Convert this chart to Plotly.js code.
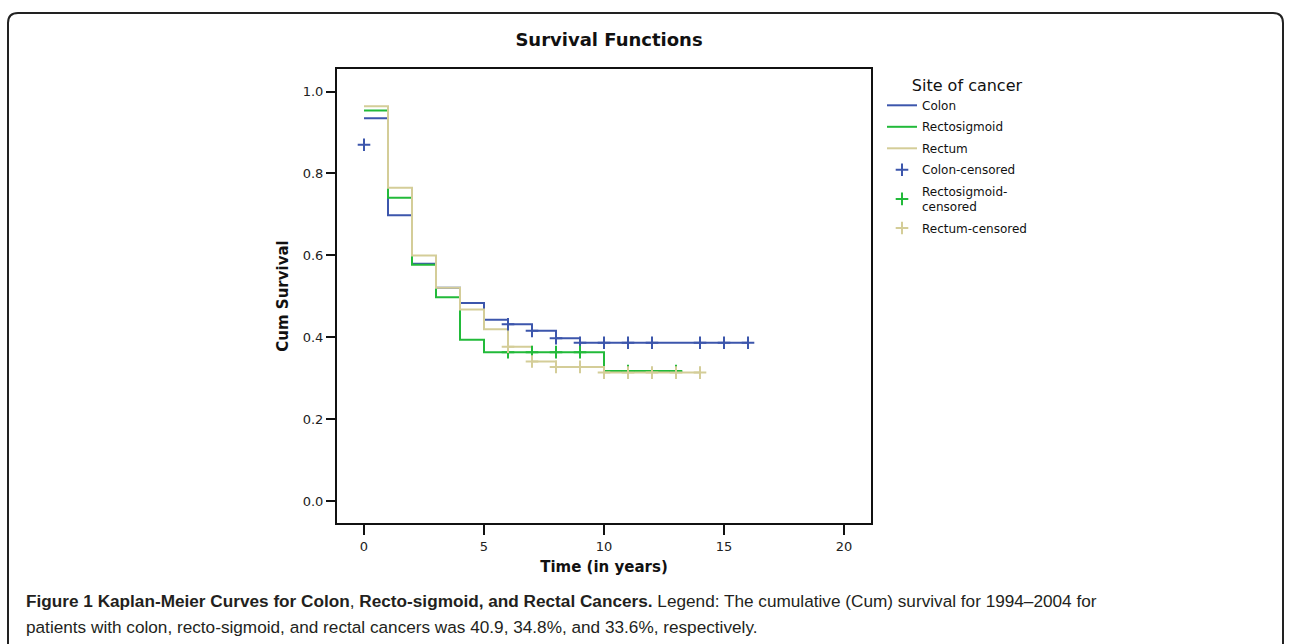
<!DOCTYPE html>
<html>
<head>
<meta charset="utf-8">
<script src="https://cdn.plot.ly/plotly-3.0.1.min.js"></script>
<style>
  html, body { margin: 0; padding: 0; background: #ffffff; }
  #chart { width: 1290px; height: 644px; }
</style>
</head>
<body>
<div id="chart"></div>
<script>
// ---- Data ----
var colonTime = [0, 1, 2, 3, 4, 5, 6, 7, 8, 9, 16];
var colonSurv = [0.935, 0.698, 0.580, 0.521, 0.484, 0.443, 0.432, 0.416, 0.398, 0.387, 0.387];

var rectosigTime = [0, 1, 2, 3, 4, 5, 10, 13];
var rectosigSurv = [0.954, 0.741, 0.577, 0.498, 0.394, 0.364, 0.318, 0.318];

var rectumTime = [0, 1, 2, 3, 4, 5, 6, 7, 8, 10, 14];
var rectumSurv = [0.964, 0.765, 0.600, 0.521, 0.468, 0.420, 0.377, 0.341, 0.328, 0.314, 0.314];

var colonCensTime = [0, 6, 7, 8, 9, 10, 11, 12, 14, 15, 16];
var colonCensSurv = [0.870, 0.432, 0.416, 0.398, 0.387, 0.387, 0.387, 0.387, 0.387, 0.387, 0.387];

var rectosigCensTime = [6, 7, 8, 9, 11, 13];
var rectosigCensSurv = [0.364, 0.364, 0.364, 0.364, 0.318, 0.318];

var rectumCensTime = [6, 7, 8, 9, 10, 11, 12, 13, 14];
var rectumCensSurv = [0.377, 0.341, 0.328, 0.328, 0.314, 0.314, 0.314, 0.314, 0.314];

var seriesNames = ['Colon', 'Rectosigmoid', 'Rectum', 'Colon-censored', 'Rectosigmoid-<br>censored', 'Rectum-censored'];
var xTicks = [0, 5, 10, 15, 20];
var yTicks = [0.0, 0.2, 0.4, 0.6, 0.8, 1.0];
var yTickText = ['0.0', '0.2', '0.4', '0.6', '0.8', '1.0'];

// ---- Styles ----
var cBlue = 'rgb(60,86,172)';
var cGreen = 'rgb(34,186,58)';
var cTan = 'rgb(212,205,152)';
var censSize = 9;

function stepTrace(x, y, name, color) {
  return { x: x, y: y, name: name, legendgroup: name, type: 'scatter', mode: 'lines',
           line: { shape: 'hv', color: color, width: 2 }, hoverinfo: 'x+y' };
}
function censTrace(x, y, name, color) {
  return { x: x, y: y, name: name, legendgroup: name, type: 'scatter', mode: 'markers',
           marker: { symbol: 'cross-thin-open', size: censSize, color: color,
                     line: { color: color, width: 2 } }, hoverinfo: 'x+y' };
}

var traces = [
  stepTrace(colonTime, colonSurv, seriesNames[0], cBlue),
  stepTrace(rectosigTime, rectosigSurv, seriesNames[1], cGreen),
  stepTrace(rectumTime, rectumSurv, seriesNames[2], cTan),
  censTrace(colonCensTime, colonCensSurv, seriesNames[3], cBlue),
  censTrace(rectosigCensTime, rectosigCensSurv, seriesNames[4], cGreen),
  censTrace(rectumCensTime, rectumCensSurv, seriesNames[5], cTan)
];

// plot area in pixels: x 337..871, y 69..523
var L = 337, R = 871, T = 69, B = 523, W = 1290, H = 644;
function px(x) { return (x - L) / (R - L); }
function py(y) { return (B - y) / (B - T); }

var fl = px(8), fr = px(1283), ft = py(13), fb = py(700);
var rx = 10 / (R - L), ry = 10 / (B - T);
var framePath = 'M' + fl + ',' + fb + ' L' + fl + ',' + (ft - ry) +
  ' Q' + fl + ',' + ft + ' ' + (fl + rx) + ',' + ft +
  ' L' + (fr - rx) + ',' + ft +
  ' Q' + fr + ',' + ft + ' ' + fr + ',' + (ft - ry) +
  ' L' + fr + ',' + fb;

var font = 'DejaVu Sans, Liberation Sans, Arial, sans-serif';
var capFont = 'Liberation Sans, Arial, sans-serif';

var layout = {
  width: W, height: H,
  margin: { l: L, r: W - R, t: T, b: H - B, pad: 0 },
  paper_bgcolor: '#ffffff', plot_bgcolor: '#ffffff',
  font: { family: font, color: '#1a1a1a', size: 12 },
  title: { text: '<b>Survival Functions</b>', x: 609 / W, xref: 'container', xanchor: 'center',
           y: 1 - 40 / H, yref: 'container', yanchor: 'middle',
           font: { family: font, size: 18, color: '#111' } },
  xaxis: {
    range: [-1.125, 21.125], tickvals: xTicks, ticks: 'outside', ticklen: 10, tickwidth: 2,
    tickcolor: '#111', showline: true, linecolor: '#111', linewidth: 2, mirror: true,
    showgrid: false, zeroline: false, tickfont: { size: 13, color: '#222' },
    title: { text: '<b>Time (in years)</b>', font: { size: 15, color: '#111' }, standoff: 9 }
  },
  yaxis: {
    range: [-0.053, 1.055], tickvals: yTicks, ticktext: yTickText, ticks: 'outside', ticklen: 9, tickwidth: 2,
    tickcolor: '#111', showline: true, linecolor: '#111', linewidth: 2, mirror: true,
    showgrid: false, zeroline: false, tickfont: { size: 13, color: '#222' },
    title: { text: '<b>Cum Survival</b>', font: { size: 15, color: '#111' }, standoff: 10 }
  },
  legend: {
    x: px(882), xanchor: 'left', y: py(70), yanchor: 'top',
    bgcolor: 'rgba(0,0,0,0)', borderwidth: 0, traceorder: 'grouped',
    font: { size: 12, color: '#111' },
    title: { text: '\u00a0\u00a0\u00a0\u00a0Site of cancer', side: 'top center', font: { size: 16, color: '#111' } },
    itemwidth: 30, tracegroupgap: 2.5
  },
  shapes: [
    { type: 'path', xref: 'paper', yref: 'paper', path: framePath,
      line: { color: '#222', width: 2 }, fillcolor: 'rgba(0,0,0,0)', layer: 'below' }
  ],
  annotations: [
    { xref: 'paper', yref: 'paper', x: px(24), y: py(601), xanchor: 'left', yanchor: 'middle',
      showarrow: false, align: 'left',
      font: { family: capFont, size: 17.2, color: '#231f20' },
      text: '<b>Figure 1 Kaplan-Meier Curves for Colon</b>, <b>Recto-sigmoid, and Rectal Cancers.</b> Legend: The cumulative (Cum) survival for 1994\u20132004 for' },
    { xref: 'paper', yref: 'paper', x: px(24), y: py(627), xanchor: 'left', yanchor: 'middle',
      showarrow: false, align: 'left',
      font: { family: capFont, size: 17.2, color: '#231f20' },
      text: 'patients with colon, recto-sigmoid, and rectal cancers was 40.9, 34.8%, and 33.6%, respectively.' }
  ]
};

Plotly.newPlot('chart', traces, layout, { displayModeBar: false, responsive: false });
</script>
</body>
</html>
